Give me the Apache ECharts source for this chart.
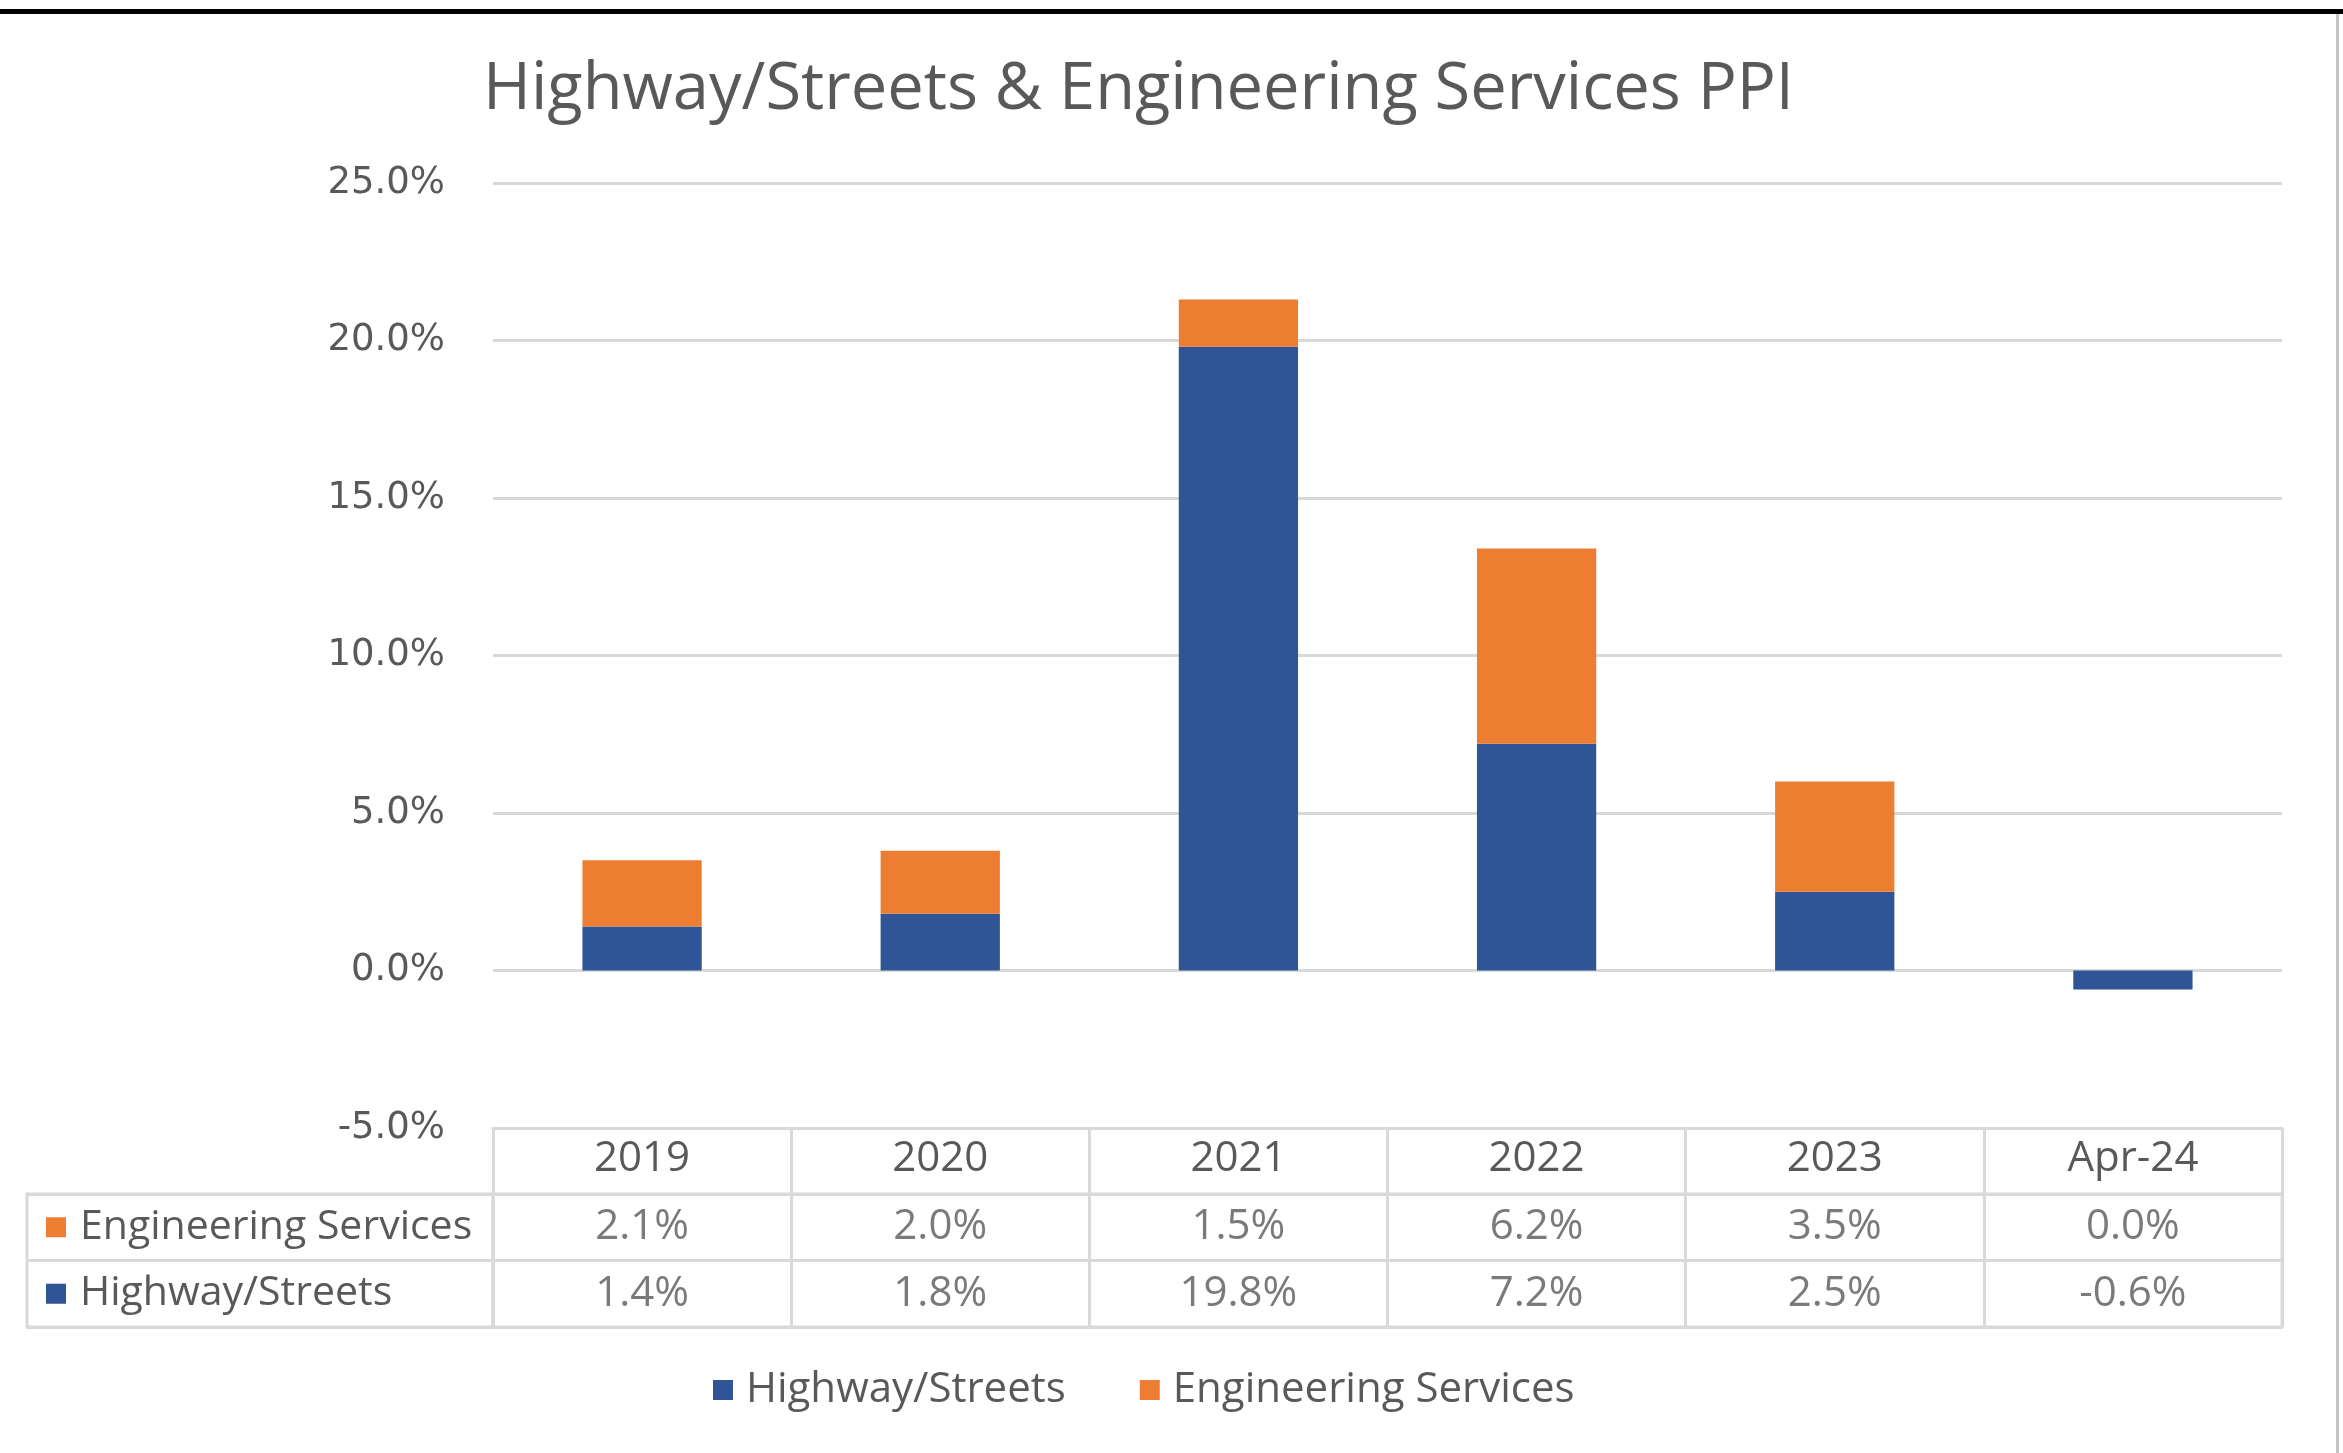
<!DOCTYPE html>
<html>
<head>
<meta charset="utf-8">
<script src="https://cdn.jsdelivr.net/npm/echarts@6/dist/echarts.min.js"></script>
<style>
  html, body { margin: 0; padding: 0; background: #fff; }
  #box { width: 2343px; height: 1453px; }
  .topline { position: absolute; left: 0; top: 9px; width: 2343px; height: 5px; background: #000; }
  .rightline { position: absolute; left: 2336px; top: 14px; width: 3px; height: 1439px; background: #c4c4c4; }
</style>
</head>
<body>
<div id="box"></div>
<div class="topline"></div>
<div class="rightline"></div>
<script>
// data (percent)
const categories = ["2019", "2020", "2021", "2022", "2023", "Apr-24"];
const highway = [1.4, 1.8, 19.8, 7.2, 2.5, -0.6];
const engineering = [2.1, 2.0, 1.5, 6.2, 3.5, 0.0];
const rowNames = ["Engineering Services", "Highway/Streets"];
const yTicks = { min: -5, max: 25, step: 5 };

const blue = "#2F5597";
const orange = "#ED7D31";
const gridLine = "#d9d9d9";
const textCol = "#595959";
const font = "Open Sans";

// table cells: [category, row, value]
let cells = [];
categories.forEach((c, i) => {
  cells.push([c, rowNames[0], engineering[i]]);
  cells.push([c, rowNames[1], highway[i]]);
});

let myChart = echarts.init(document.getElementById("box"));
let option = {
  animation: false,
  title: {
    text: "Highway/Streets & Engineering Services PPI",
    left: 478,
    top: 53,
    textStyle: { fontFamily: font, fontSize: 65, fontWeight: "normal", color: textCol }
  },
  legend: {
    data: ["Highway/Streets", "Engineering Services"],
    left: 708,
    top: 1364,
    icon: "rect",
    itemWidth: 20,
    itemHeight: 20,
    itemGap: 74,
    textStyle: { fontFamily: font, fontSize: 42, color: textCol, padding: [0, 0, 0, 8] }
  },
  grid: [
    // chart
    { left: 493, right: 61, top: 183, height: 945, outerBoundsMode: "none" },
    // table values
    { left: 493, right: 61, top: 1194, height: 133, show: true, borderColor: gridLine, borderWidth: 3, outerBoundsMode: "none" },
    // table row headers
    { left: 27, width: 466, top: 1194, height: 133, show: true, borderColor: gridLine, borderWidth: 3, outerBoundsMode: "none" }
  ],
  xAxis: [
    {
      type: "category",
      gridIndex: 0,
      data: categories,
      axisLine: { onZero: false, lineStyle: { color: gridLine, width: 3 } },
      axisTick: { show: true, interval: 0, length: 199, lineStyle: { color: gridLine, width: 3 } },
      axisLabel: { interval: 0, margin: 31, verticalAlign: "middle", fontFamily: font, fontSize: 42, color: textCol }
    },
    { type: "category", gridIndex: 1, data: categories, show: false },
    { type: "value", gridIndex: 2, show: false }
  ],
  yAxis: [
    {
      type: "value",
      gridIndex: 0,
      min: yTicks.min,
      max: yTicks.max,
      interval: yTicks.step,
      axisLine: { show: false },
      axisTick: { show: false },
      splitLine: { lineStyle: { color: gridLine, width: 3 } },
      axisLabel: {
        margin: 48,
        fontFamily: "DejaVu Sans",
        fontSize: 37,
        color: textCol,
        formatter: (v) => v.toFixed(1) + "%"
      }
    },
    {
      type: "category",
      gridIndex: 1,
      data: rowNames,
      inverse: true,
      axisLine: { show: false },
      axisTick: { show: false },
      axisLabel: { show: false },
      splitLine: { show: true, lineStyle: { color: gridLine, width: 3 } }
    },
    {
      type: "category",
      gridIndex: 2,
      data: rowNames,
      inverse: true,
      axisLine: { show: false },
      axisTick: { show: false },
      splitLine: { show: true, lineStyle: { color: gridLine, width: 3 } },
      axisLabel: {
        inside: true,
        margin: 19,
        formatter: (name) => (name === rowNames[0] ? "{o|}" : "{b|}") + "{t|" + name + "}",
        rich: {
          o: { width: 20, height: 20, backgroundColor: orange },
          b: { width: 20, height: 20, backgroundColor: blue },
          t: { fontFamily: font, fontSize: 41, color: textCol, padding: [0, 0, 0, 14] }
        }
      }
    }
  ],
  series: [
    {
      name: "Highway/Streets",
      type: "bar",
      stack: "ppi",
      xAxisIndex: 0,
      yAxisIndex: 0,
      barWidth: "40%",
      itemStyle: { color: blue },
      data: highway
    },
    {
      name: "Engineering Services",
      type: "bar",
      stack: "ppi",
      xAxisIndex: 0,
      yAxisIndex: 0,
      barWidth: "40%",
      itemStyle: { color: orange },
      data: engineering
    },
    {
      name: "table",
      type: "scatter",
      xAxisIndex: 1,
      yAxisIndex: 1,
      symbolSize: 1,
      itemStyle: { color: "transparent" },
      label: {
        show: true,
        position: "inside",
        fontFamily: font,
        fontSize: 42,
        color: textCol,
        formatter: (p) => p.value[2].toFixed(1) + "%"
      },
      data: cells
    }
  ]
};
myChart.setOption(option);
</script>
</body>
</html>
